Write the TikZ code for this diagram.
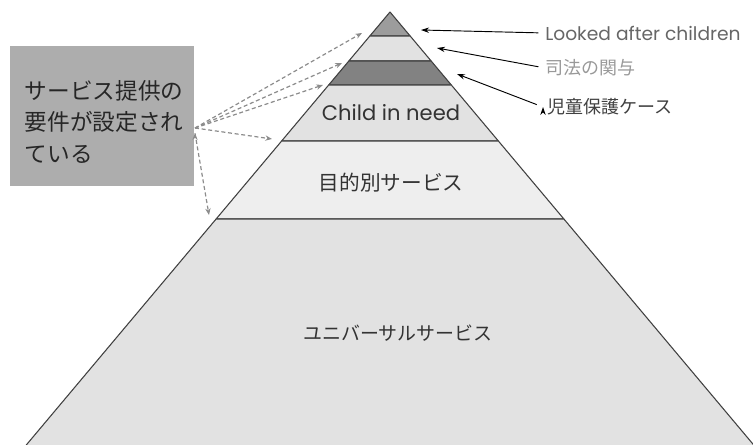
\documentclass[tikz,border=0pt]{standalone}
\usepackage{fontspec}
\setmainfont{Noto Sans CJK JP}
\newfontfamily\latinfont{Poppins}
\usetikzlibrary{calc,positioning,arrows.meta}

\definecolor{bandtop}{HTML}{9C9C9C}
\definecolor{bandlight}{HTML}{E2E2E2}
\definecolor{banddark}{HTML}{828282}
\definecolor{bandpale}{HTML}{EEEEEE}
\definecolor{boxgray}{HTML}{ADADAD}

\begin{document}
\begin{tikzpicture}[x=0.75pt, y=-0.75pt, >=Stealth,
    band/.style={draw=black!75, line width=0.8pt, line join=round},
    tag/.style={anchor=west, font=\fontsize{13.5}{16}\selectfont, inner sep=0pt},
    dashlink/.style={->, densely dashed, draw=black!45, line width=0.9pt, >={Stealth[length=5pt,width=4pt]}},
    pointer/.style={->, draw=black, line width=0.7pt, shorten <=5pt, >={Stealth[length=6pt,width=4pt]}}]
    \useasboundingbox (0,0) rectangle (753,445);

    % pyramid bands, apex at (390,12)
    \foreach \ya/\yb/\col in {12/36/bandtop, 36/61/bandlight, 61/85/banddark,
                              85/141/bandlight, 141/219/bandpale, 219/460/bandlight}
      \filldraw[band, fill=\col]
        ({390-0.84*(\ya-12)},\ya) -- ({390+0.84*(\ya-12)},\ya)
        -- ({390+0.84*(\yb-12)},\yb) -- ({390-0.84*(\yb-12)},\yb) -- cycle;

    \node[text=black!80, font=\latinfont\fontsize{15.8}{18}\selectfont] (need) at (391,113) {Child in need};
    \node[text=black!80, font=\fontsize{15.5}{18}\selectfont] (target) at (391,183) {目的別サービス};
    \node[text=black!80, font=\fontsize{14.2}{17}\selectfont] (univ) at (398,333) {ユニバーサルサービス};

    % box on the left
    \node[fill=boxgray, anchor=north west, minimum width=138pt, minimum height=105pt,
          inner sep=0pt] (req) at (10,46) {};
    \node[anchor=west, align=left, inner sep=0pt, text=black!85,
          font=\fontsize{17}{23.6}\selectfont] (reqtext) at ([xshift=11pt,yshift=-4pt]req.west)
      {サービス提供の\\要件が設定され\\ている};

    % labels on the right
    \node[tag, text=black!60, font=\latinfont\fontsize{14}{16}\selectfont] (lac) at (545,33) {Looked after children};
    \node[tag, text=black!40] (court) at (545,68) {司法の関与};
    \node[tag, text=black!75] (cp) at (547,107) {児童保護ケース};

    \coordinate (src) at (195,128);
    \coordinate (t1) at (362,33);
    \coordinate (t2) at (342,63);
    \coordinate (t3) at (323,85);
    \coordinate (t4) at (272,139);
    \coordinate (t5) at (209,215);
    \coordinate (p1) at (421,30);
    \coordinate (p2) at (437,48);
    \coordinate (p3) at (457,74);

    % dashed links from the box
    \path[dashlink]
      (src) edge (t1)
      (src) edge (t2)
      (src) edge (t3)
      (src) edge (t4)
      ([yshift=-4pt]src) edge (t5);

    % pointers from the labels
    \path[pointer]
      (lac.west) edge (p1)
      (court.west) edge (p2)
      ([xshift=-3pt]cp.west) edge (p3);
\end{tikzpicture}
\end{document}
